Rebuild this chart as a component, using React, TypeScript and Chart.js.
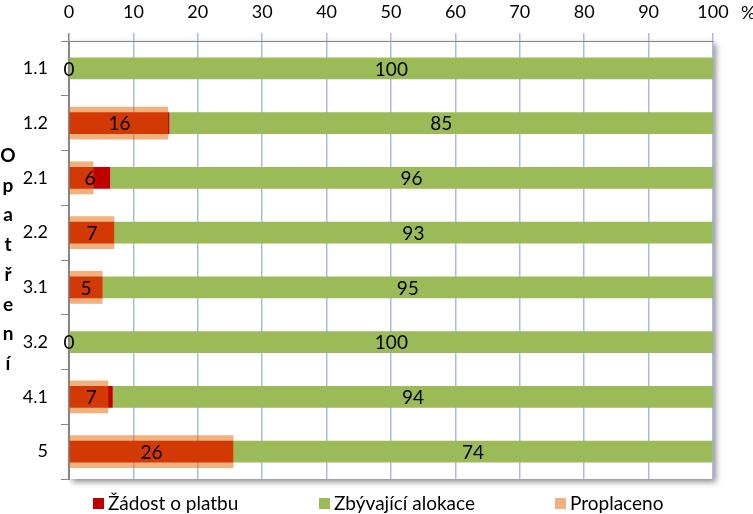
import React, { useEffect, useRef } from "react";
import { Chart, registerables } from "chart.js";

Chart.register(...registerables);

const categories = ["1.1", "1.2", "2.1", "2.2", "3.1", "3.2", "4.1", "5"];
const zadostValues = [0, 15.6, 6.4, 7.0, 5.2, 0, 6.8, 25.5];
const zbyvajiciValues = [100, 84.6, 96.2, 92.95, 94.8, 100, 93.9, 74.45];
const proplacenoValues = [0, 15.4, 3.8, 7.05, 5.2, 0, 6.1, 25.55];
const seriesNames = ["Žádost o platbu", "Zbývající alokace", "Proplaceno"];
const seriesColors = ["#C00000", "#9BBB59", "rgba(228,108,10,0.53)"];
const axisTitle = "Opatření";
const unitLabel = "%";
const xMin = 0;
const xMax = 100;
const xStep = 10;

const FONT = "Lato, 'Open Sans', sans-serif";

const shadowPlugin = {
  id: "plotShadow",
  beforeDraw(chart: any) {
    const { ctx, chartArea: a } = chart;
    ctx.save();
    ctx.shadowColor = "rgba(0,0,0,0.45)";
    ctx.shadowBlur = 6;
    ctx.shadowOffsetX = 3;
    ctx.shadowOffsetY = 3;
    ctx.fillStyle = "#FFFFFF";
    ctx.fillRect(a.left, a.top, a.right - a.left, a.bottom - a.top);
    ctx.restore();
  },
};

const labelsPlugin = {
  id: "barLabels",
  afterDatasetsDraw(chart: any) {
    const { ctx, chartArea: a } = chart;
    ctx.save();
    ctx.font = `19px ${FONT}`;
    ctx.fillStyle = "#000";
    ctx.textAlign = "center";
    ctx.textBaseline = "middle";
    [0, 1].forEach((di) => {
      const meta = chart.getDatasetMeta(di);
      meta.data.forEach((bar: any, i: number) => {
        const p = bar.getProps(["x", "base", "y"], true);
        const l = Math.max(a.left, Math.min(p.x, p.base));
        const r = Math.min(a.right, Math.max(p.x, p.base));
        const v = chart.data.datasets[di].data[i] as number;
        ctx.fillText(String(Math.round(v)), (l + r) / 2, p.y + 1);
      });
    });
    ctx.restore();
  },
  afterDraw(chart: any) {
    const { ctx, chartArea: a } = chart;
    ctx.save();
    // unit label
    ctx.font = `18px ${FONT}`;
    ctx.fillStyle = "#000";
    ctx.textAlign = "left";
    ctx.textBaseline = "middle";
    ctx.fillText(unitLabel, a.right + 28, 13);
    // vertical axis title (stacked letters)
    ctx.font = `bold 19px ${FONT}`;
    ctx.textAlign = "center";
    ctx.textBaseline = "alphabetic";
    const letters = Array.from(axisTitle);
    const mid = (a.top + a.bottom) / 2;
    const step = 29.7;
    const start = mid - ((letters.length - 1) * step) / 2 + 6;
    letters.forEach((ch, i) => ctx.fillText(ch, 8, start + i * step));
    // legend
    ctx.font = `19px ${FONT}`;
    ctx.textBaseline = "middle";
    ctx.textAlign = "left";
    const xs = [93, 319, 555];
    const ly = 504;
    seriesNames.forEach((name, i) => {
      ctx.fillStyle = "#FFFFFF";
      ctx.fillRect(xs[i], ly - 6, 11, 11);
      ctx.fillStyle = seriesColors[i];
      ctx.fillRect(xs[i], ly - 6, 11, 11);
      ctx.fillStyle = "#000";
      ctx.fillText(name, xs[i] + 15, ly);
    });
    ctx.restore();
  },
};

export default function App() {
  const ref = useRef<HTMLCanvasElement>(null);
  useEffect(() => {
    if (!ref.current) return;
    const chart = new Chart(ref.current, {
      type: "bar",
      data: {
        labels: categories,
        datasets: [
          {
            label: seriesNames[0],
            data: zadostValues,
            backgroundColor: seriesColors[0],
            stack: "a",
            grouped: false,
            categoryPercentage: 1,
            barPercentage: 0.4,
            order: 1,
          },
          {
            label: seriesNames[1],
            data: zbyvajiciValues,
            backgroundColor: seriesColors[1],
            stack: "a",
            grouped: false,
            categoryPercentage: 1,
            barPercentage: 0.4,
            order: 1,
          },
          {
            label: seriesNames[2],
            data: proplacenoValues,
            backgroundColor: seriesColors[2],
            stack: "b",
            grouped: false,
            categoryPercentage: 1,
            barPercentage: 0.6,
            order: 0,
          },
        ] as any,
      },
      options: {
        indexAxis: "y",
        animation: false,
        responsive: true,
        maintainAspectRatio: false,
        layout: { padding: { top: 0, right: 40, bottom: 35, left: 0 } },
        plugins: {
          legend: { display: false },
          tooltip: { enabled: false },
        },
        scales: {
          x: {
            type: "linear",
            position: "top",
            min: xMin,
            max: xMax,
            stacked: true,
            afterFit: (s: any) => {
              s.height = 41;
            },
            ticks: {
              stepSize: xStep,
              autoSkip: false,
              maxRotation: 0,
              padding: 10,
              color: "#000",
              font: { family: FONT, size: 18 },
            },
            grid: {
              drawTicks: true,
              tickLength: 8,
              lineWidth: 1.5,
              color: (c: any) => (c.tick && c.tick.value === 0 ? "#868686" : "#A3BDE8"),
            },
            border: { display: true, color: "#868686", width: 1 },
          },
          y: {
            type: "category",
            afterFit: (s: any) => {
              s.width = 69;
            },
            ticks: {
              padding: 13,
              color: "#000",
              font: { family: FONT, size: 18 },
            },
            grid: {
              offset: true,
              drawOnChartArea: false,
              drawTicks: true,
              tickLength: 8,
              color: "#868686",
            },
            border: { display: true, color: "#868686", width: 1 },
          },
        },
      } as any,
      plugins: [shadowPlugin, labelsPlugin],
    });
    return () => chart.destroy();
  }, []);
  return (
    <div style={{ position: "absolute", left: 0, top: 0, width: 753, height: 514 }}>
      <canvas ref={ref} />
    </div>
  );
}
